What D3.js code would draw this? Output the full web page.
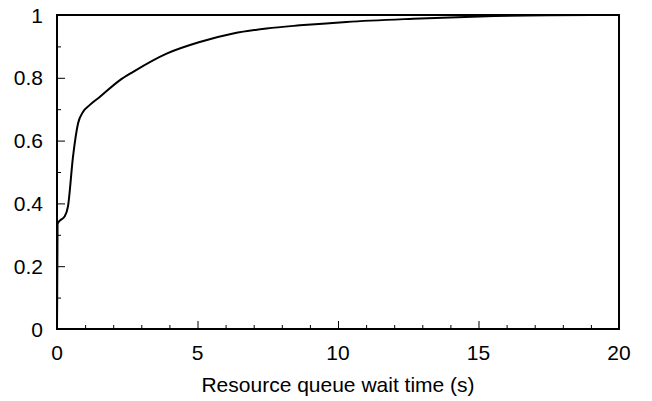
<!DOCTYPE html>
<html>
<head>
<meta charset="utf-8">
<script src="https://cdn.jsdelivr.net/npm/d3@7"></script>
<style>
   body { margin: 0; background: #fff; }
   text { font-family: 'Liberation Sans', Arial, sans-serif; fill: #000; }
</style>
</head>
<body>
<div id="chart"></div>
<script>
// wait time (s) and cumulative fraction
const waitTimes = [0, 0.02, 0.1, 0.27, 0.39, 0.57, 0.75, 0.93, 1.16, 1.52, 2.23, 2.71, 3.9, 5.08, 6.27, 7.46, 8.64, 10.3, 12.67, 15.05, 17.5, 20];
const cdfValues = [0, 0.335, 0.345, 0.358, 0.39, 0.549, 0.655, 0.692, 0.713, 0.739, 0.792, 0.819, 0.877, 0.914, 0.941, 0.957, 0.967, 0.978, 0.988, 0.9955, 0.999, 1];
const xMajorTicks = [0, 5, 10, 15, 20];
const yMajorTicks = [0, 0.2, 0.4, 0.6, 0.8, 1];
const xTitle = 'Resource queue wait time (s)';

const width = 652, height = 401;
const margin = { top: 15, right: 33, bottom: 72, left: 57 };
const w = width - margin.left - margin.right;
const h = height - margin.top - margin.bottom;
const fontSize = 21;

const svg = d3.select('#chart')
   .append('svg')
   .attr('width', width)
   .attr('height', height);

const chart = svg.append('g')
   .attr('transform', `translate(${margin.left},${margin.top})`);

const x = d3.scaleLinear().domain([0, 20]).range([0, w]);
const y = d3.scaleLinear().domain([0, 1]).range([h, 0]);

// inward ticks, major + minor
const xAxis = d3.axisBottom(x)
   .tickValues(d3.range(0, 21, 1))
   .tickSize(0)
   .tickFormat('');
const xAxisG = chart.append('g')
   .attr('transform', `translate(0,${h})`)
   .call(xAxis);
xAxisG.select('.domain').remove();
xAxisG.selectAll('.tick line')
   .attr('y2', (d) => (d % 5 === 0 ? -8 : -4))
   .attr('stroke', '#000');

const yAxis = d3.axisLeft(y)
   .tickValues(d3.range(0, 11).map((d) => d / 10))
   .tickSize(0)
   .tickFormat('');
const yAxisG = chart.append('g').call(yAxis);
yAxisG.select('.domain').remove();
yAxisG.selectAll('.tick line')
   .attr('x2', (d, i) => (i % 2 === 0 ? 8 : 4))
   .attr('stroke', '#000');

// labels
chart.selectAll('.x-label')
   .data(xMajorTicks)
   .join('text')
   .attr('class', 'x-label')
   .attr('x', (d) => x(d))
   .attr('y', h + 31)
   .attr('text-anchor', 'middle')
   .attr('font-size', fontSize)
   .text((d) => d);

chart.selectAll('.y-label')
   .data(yMajorTicks)
   .join('text')
   .attr('class', 'y-label')
   .attr('x', -14)
   .attr('y', (d) => y(d))
   .attr('dy', '0.36em')
   .attr('text-anchor', 'end')
   .attr('font-size', fontSize)
   .text((d) => d3.format('~g')(d));

chart.append('text')
   .attr('x', w / 2)
   .attr('y', h + 63)
   .attr('text-anchor', 'middle')
   .attr('font-size', fontSize)
   .text(xTitle);

// curve
const pts = waitTimes.map((t, i) => [t, cdfValues[i]]);
const line = d3.line()
   .x((d) => x(d[0]))
   .y((d) => y(d[1]))
   .curve(d3.curveMonotoneX);

chart.append('path')
   .datum(pts)
   .attr('fill', 'none')
   .attr('stroke', '#000')
   .attr('stroke-width', 2)
   .attr('d', line);

// frame
chart.append('rect')
   .attr('width', w)
   .attr('height', h)
   .attr('fill', 'none')
   .attr('stroke', '#000')
   .attr('stroke-width', 2);
</script>
</body>
</html>
